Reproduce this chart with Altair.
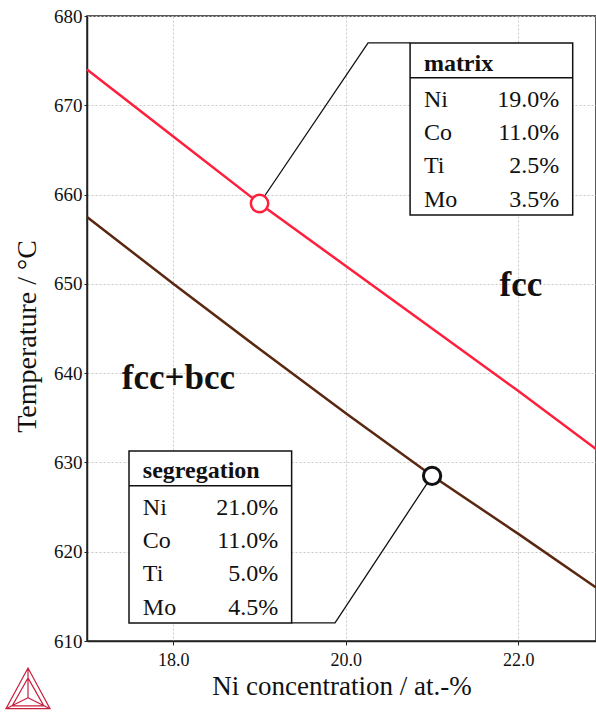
import altair as alt
import pandas as pd

# Phase boundary temperatures (°C) versus Ni concentration (at.-%)
ni_conc = [17.0, 18.0, 19.0, 20.0, 21.0, 22.0, 22.9]
t_matrix = [674.0, 666.5, 659.0, 652.0, 645.0, 638.0, 631.5]
t_segregation = [657.5, 650.0, 642.7, 635.5, 628.5, 622.0, 616.0]

# Alloy compositions (at.-%)
elements = ["Ni", "Co", "Ti", "Mo"]
matrix_pct = [19.0, 11.0, 2.5, 3.5]
segregation_pct = [21.0, 11.0, 5.0, 4.5]

x_ticks = [18.0, 20.0, 22.0]
y_ticks = [610, 620, 630, 640, 650, 660, 670, 680]

FONT = "Liberation Serif"
RED = "#ff1f3d"
BROWN = "#5a2810"
LOGO = "#c8203f"

W, H = 509, 625
X_DOM = [17.0, 22.9]
Y_DOM = [610, 680]

x_enc = alt.X(
    "x:Q",
    scale=alt.Scale(domain=X_DOM, nice=False, zero=False),
    axis=alt.Axis(
        values=x_ticks, format=".1f", title="Ni concentration / at.-%",
        grid=True, gridDash=[2, 2], gridColor="#c8c8c8", gridWidth=1,
        domainColor="#222", domainWidth=1.5, tickColor="#222", tickSize=4,
        labelFont=FONT, labelFontSize=18, labelColor="#111", labelPadding=6,
        titleFont=FONT, titleFontSize=27, titleFontWeight="normal",
        titleColor="#111", titlePadding=4,
    ),
)
y_enc = alt.Y(
    "y:Q",
    scale=alt.Scale(domain=Y_DOM, nice=False, zero=False),
    axis=alt.Axis(
        values=y_ticks, format="d", title="Temperature / °C",
        grid=True, gridDash=[2, 2], gridColor="#c8c8c8", gridWidth=1,
        domainColor="#222", domainWidth=1.5, tickColor="#222", tickSize=3,
        labelFont=FONT, labelFontSize=19, labelColor="#111", labelPadding=2,
        titleFont=FONT, titleFontSize=28, titleFontWeight="normal",
        titleColor="#111", titlePadding=12, titleY=320,
    ),
)

# Phase boundary curves
df_matrix = pd.DataFrame({"x": ni_conc, "y": t_matrix})
df_seg = pd.DataFrame({"x": ni_conc, "y": t_segregation})

line_matrix = alt.Chart(df_matrix).mark_line(color=RED, strokeWidth=2.5).encode(x=x_enc, y=y_enc)
line_seg = alt.Chart(df_seg).mark_line(color=BROWN, strokeWidth=2.5).encode(x=x_enc, y=y_enc)

# Composition points on each curve
m_x = matrix_pct[0]
m_y = t_matrix[ni_conc.index(m_x)]
s_x = segregation_pct[0]
s_y = t_segregation[ni_conc.index(s_x)]

BOX_W = 1.885
BOX_H = 19.26


def table_layers(title, pct, left, top, leader_pts, anchor):
    """Boxed composition table with a leader line to its point."""
    rect = alt.Chart(pd.DataFrame({"x": [left], "x2": [left + BOX_W],
                                   "y": [top], "y2": [top - BOX_H]})).mark_rect(
        fill="white", stroke="#111", strokeWidth=1.5
    ).encode(x=x_enc, x2="x2", y=y_enc, y2="y2")
    sep = alt.Chart(pd.DataFrame({"x": [left], "x2": [left + BOX_W],
                                  "y": [top - 3.9]})).mark_rule(
        color="#111", strokeWidth=1.5
    ).encode(x=x_enc, x2="x2", y=y_enc)
    head = alt.Chart(pd.DataFrame({"x": [left + 0.16], "y": [top - 2.3], "t": [title]})).mark_text(
        font=FONT, fontSize=24, fontWeight="bold", align="left", baseline="middle", color="#111"
    ).encode(x=x_enc, y=y_enc, text="t:N")
    row_y = [top - 6.35 - 3.73 * i for i in range(4)]
    names_df = pd.DataFrame({"x": [left + 0.16] * 4, "y": row_y, "t": elements})
    vals_df = pd.DataFrame({"x": [left + 1.73] * 4, "y": row_y,
                            "t": [f"{p:.1f}%" for p in pct]})
    names = alt.Chart(names_df).mark_text(
        font=FONT, fontSize=24, align="left", baseline="middle", color="#111"
    ).encode(x=x_enc, y=y_enc, text="t:N")
    vals = alt.Chart(vals_df).mark_text(
        font=FONT, fontSize=24, align="right", baseline="middle", color="#111"
    ).encode(x=x_enc, y=y_enc, text="t:N")
    pts = [anchor] + leader_pts
    leader = alt.Chart(pd.DataFrame({
        "x": [p[0] for p in pts], "y": [p[1] for p in pts], "o": list(range(len(pts)))
    })).mark_line(color="#111", strokeWidth=1.3).encode(x=x_enc, y=y_enc, order="o:Q")
    return [leader, rect, sep, head, names, vals]


m_top, m_left = 676.98, 20.745
s_top, s_left = 631.29, 17.487

matrix_tbl = table_layers("matrix", matrix_pct, m_left, m_top,
                          [(20.258, m_top), (m_left, m_top)], (m_x, m_y))
seg_tbl = table_layers("segregation", segregation_pct, s_left, s_top,
                       [(19.875, s_top - BOX_H), (s_left + BOX_W, s_top - BOX_H)], (s_x, s_y))

marker_m = alt.Chart(pd.DataFrame({"x": [m_x], "y": [m_y]})).mark_point(
    shape="circle", filled=True, fill="white", stroke=RED, strokeWidth=2.5, size=300, opacity=1
).encode(x=x_enc, y=y_enc)
marker_s = alt.Chart(pd.DataFrame({"x": [s_x], "y": [s_y]})).mark_point(
    shape="circle", filled=True, fill="white", stroke="#111", strokeWidth=3, size=300, opacity=1
).encode(x=x_enc, y=y_enc)

# Phase region labels
regions = alt.Chart(pd.DataFrame({
    "x": [22.03, 18.06], "y": [649.9, 639.5], "t": ["fcc", "fcc+bcc"]
})).mark_text(font=FONT, fontSize=35, fontWeight="bold", color="#111",
              align="center", baseline="middle").encode(x=x_enc, y=y_enc, text="t:N")

# Triangle logo in the lower-left corner
logo_path = ("M0,-1L1,0.85L-1,0.85Z M0,-0.55L0.72,0.72L-0.72,0.72Z "
             "M0,-1L0,0.35 M-1,0.85L0,0.35 M1,0.85L0,0.35")
logo = alt.Chart(pd.DataFrame({"a": [0]})).mark_point(
    shape=logo_path, filled=False, stroke=LOGO, strokeWidth=1.2, size=1936, opacity=1
).encode(x=alt.value(-59), y=alt.value(674))

chart = alt.layer(
    line_matrix, line_seg,
    *matrix_tbl, *seg_tbl,
    marker_m, marker_s, regions, logo,
).properties(
    width=W, height=H,
    padding={"left": 87, "top": 16, "right": 0, "bottom": 74},
    autosize=alt.AutoSizeParams(type="none"),
    background="white",
).configure_view(stroke="#222", strokeWidth=1.5)

chart.save("out.html", embed_options={"renderer": "svg", "actions": False})
